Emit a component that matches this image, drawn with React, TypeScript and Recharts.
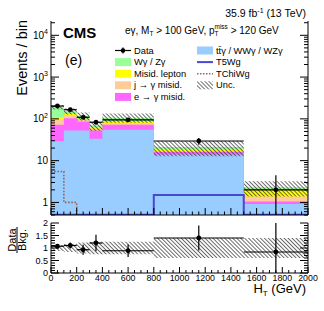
import React from 'react';
import { ComposedChart, Area, Line, Scatter, ErrorBar, XAxis, YAxis } from 'recharts';

// ---------- data ----------
const binEdges = [0, 100, 200, 300, 400, 800, 1500, 2000];
const binCenters = [50, 150, 250, 350, 600, 1150, 1750];
const binHalfWidths = [50, 50, 50, 50, 200, 350, 250];

const ttgWWgWZg = [29, 53, 53, 33.5, 55, 14, 0.92];
const eToGammaMisid = [43, 50, 33, 19.5, 17, 2, 0.13];
const jToGammaMisid = [24, 21, 10, 5, 8, 1, 0.34];
const misidLepton = [11, 9, 5, 5, 7, 1.7, 0.61];
const wgZg = [83, 19, 16, 6, 20, 2.5, 0.3];
const bkgRelUnc = [0.12, 0.16, 0.22, 0.25, 0.25, 0.4, 0.4];

const dataCounts = [203, 166, 109, 83, 95, 29.5, 2.0];
const dataErrLow = [14, 13, 11, 9, 10, 5.4, 1.5];
const dataErrHigh = [14, 13, 11, 9, 10, 5.4, 2.5];

const t5wgSignal = [0.51, 0.51, 0.51, 0.51, 0.51, 1.5, 0.51];
const tchiwgSignal = [5.5, 1.0, 0.3, 0.3, 0.3, 0.3, 0.3];

const ratioValues = [1.07, 1.1, 0.93, 1.2, 0.89, 1.4, 0.84];
const ratioErrLow = [0.08, 0.12, 0.2, 0.33, 0.25, 0.5, 0.84];
const ratioErrHigh = [0.08, 0.12, 0.2, 0.33, 0.25, 0.5, 1.16];

const mainYTicks = [
  0.5, 0.6, 0.7, 0.8, 0.9, 1, 2, 3, 4, 5, 6, 7, 8, 9, 10, 20, 30, 40, 50, 60, 70, 80, 90,
  100, 200, 300, 400, 500, 600, 700, 800, 900, 1000, 2000, 3000, 4000, 5000, 6000, 7000, 8000, 9000, 10000, 20000,
];
const xTicks = [0, 50, 100, 150, 200, 250, 300, 350, 400, 450, 500, 550, 600, 650, 700, 750, 800, 850, 900, 950, 1000,
  1050, 1100, 1150, 1200, 1250, 1300, 1350, 1400, 1450, 1500, 1550, 1600, 1650, 1700, 1750, 1800, 1850, 1900, 1950, 2000];
const ratioYTicks = [0, 0.1, 0.2, 0.3, 0.4, 0.5, 0.6, 0.7, 0.8, 0.9, 1, 1.1, 1.2, 1.3, 1.4, 1.5, 1.6, 1.7, 1.8, 1.9, 2];

// ---------- derived tables ----------
const stepRows = binEdges.map((x, i) => {
  const b = Math.min(i, binCenters.length - 1);
  const s1 = ttgWWgWZg[b];
  const s2 = s1 + eToGammaMisid[b];
  const s3 = s2 + jToGammaMisid[b];
  const s4 = s3 + misidLepton[b];
  const s5 = s4 + wgZg[b];
  return {
    x, s1, s2, s3, s4, s5,
    unc: [s5 * (1 - bkgRelUnc[b]), s5 * (1 + bkgRelUnc[b])],
    runc: [1 - bkgRelUnc[b], 1 + bkgRelUnc[b]],
    t5: t5wgSignal[b],
    tchi: tchiwgSignal[b],
  };
});

const dataPoints = binCenters.map((x, i) => ({
  x, y: dataCounts[i], xerr: binHalfWidths[i], yerr: [dataErrLow[i], dataErrHigh[i]],
}));
const ratioPoints = binCenters.map((x, i) => ({
  x, y: ratioValues[i], xerr: binHalfWidths[i], yerr: [ratioErrLow[i], ratioErrHigh[i]],
}));

// ---------- style ----------
const FONT = '"Liberation Sans", Arial, Helvetica, sans-serif';
const C = {
  ttg: '#99ccff', eg: '#ff66ff', jg: '#ffcc99', lep: '#ffff00', wg: '#99ff99',
  t5: '#4848d0', tchi: '#996655', hatch: '#3a3a3a',
};

const isDecade = (v: number) => Math.abs(Math.log10(v) - Math.round(Math.log10(v))) < 1e-9;
const isMult = (v: number, m: number) => Math.abs(v / m - Math.round(v / m)) < 1e-6;

const makeTick = (side: 'left' | 'right' | 'top' | 'bottom', isMajor: (v: number) => boolean, majorLen: number, minorLen: number, label?: (v: number, x: number, y: number) => React.ReactNode) =>
  (props: any) => {
    const { x, y, payload } = props;
    const v = payload.value;
    const len = isMajor(v) ? majorLen : minorLen;
    let line;
    if (side === 'left') line = <line x1={x} x2={x + len} y1={y} y2={y} stroke="#000" strokeWidth={1} />;
    else if (side === 'right') line = <line x1={x} x2={x - len} y1={y} y2={y} stroke="#000" strokeWidth={1} />;
    else if (side === 'top') line = <line x1={x} x2={x} y1={y} y2={y + len} stroke="#000" strokeWidth={1} />;
    else line = <line x1={x} x2={x} y1={y} y2={y - len} stroke="#000" strokeWidth={1} />;
    return (
      <g>
        {line}
        {label && isMajor(v) ? label(v, x, y) : null}
      </g>
    );
  };

const logLabel = (v: number, x: number, y: number) => {
  const e = Math.round(Math.log10(v));
  if (e <= 1) {
    return <text x={x - 3} y={y + 3.5} textAnchor="end" fontSize={10} fontFamily={FONT} fill="#000">{String(v)}</text>;
  }
  return (
    <text x={x - 3} y={y + 3.5} textAnchor="end" fontSize={10} fontFamily={FONT} fill="#000">
      10<tspan fontSize={7} dy={-4.5}>{String(e)}</tspan>
    </text>
  );
};

const ratioYLabel = (v: number, x: number, y: number) => (
  <text x={x - 3} y={y + 3.3} textAnchor="end" fontSize={9} fontFamily={FONT} fill="#000">{String(v)}</text>
);
const ratioXLabel = (v: number, x: number, y: number) => (
  <text x={x} y={y + 7.5} textAnchor="middle" fontSize={8.8} fontFamily={FONT} fill="#000">{String(v)}</text>
);

const legendLeft = [
  { label: 'Data', kind: 'data', color: '#000' },
  { label: 'Wγ / Zγ', kind: 'box', color: C.wg },
  { label: 'Misid. lepton', kind: 'box', color: C.lep },
  { label: 'j → γ misid.', kind: 'box', color: C.jg },
  { label: 'e → γ misid.', kind: 'box', color: C.eg },
];
const legendRight = [
  { label: 'tt̄γ / WWγ / WZγ', kind: 'box', color: C.ttg },
  { label: 'T5Wg', kind: 'line', color: C.t5 },
  { label: 'TChiWg', kind: 'dot', color: C.tchi },
  { label: 'Unc.', kind: 'hatch', color: C.hatch },
];

const HatchPattern = ({ id }: { id: string }) => (
  <pattern id={id} width={2.8} height={2.8} patternUnits="userSpaceOnUse" patternTransform="rotate(-45)">
    <line x1={0.5} y1={0} x2={0.5} y2={2.8} stroke={C.hatch} strokeWidth={0.75} />
  </pattern>
);

const LegendItem = ({ item, x, y }: { item: any; x: number; y: number }) => {
  // x: left of symbol, y: text baseline
  let sym;
  const w = 16;
  if (item.kind === 'box') sym = <rect x={x} y={y - 7} width={w} height={8} fill={item.color} />;
  else if (item.kind === 'hatch') sym = <rect x={x} y={y - 7} width={w} height={8} fill="url(#hatchLeg)" />;
  else if (item.kind === 'line') sym = <line x1={x} x2={x + w} y1={y - 3} y2={y - 3} stroke={item.color} strokeWidth={2} />;
  else if (item.kind === 'dot') sym = <line x1={x} x2={x + w} y1={y - 3} y2={y - 3} stroke={item.color} strokeWidth={1.5} strokeDasharray="1.5 1.5" />;
  else sym = (
    <g>
      <line x1={x} x2={x + w} y1={y - 3} y2={y - 3} stroke="#000" strokeWidth={1.2} />
      <line x1={x + w / 2} x2={x + w / 2} y1={y - 6} y2={y} stroke="#000" strokeWidth={1.2} />
      <circle cx={x + w / 2} cy={y - 3} r={2.3} fill="#000" />
    </g>
  );
  return (
    <g>
      {sym}
      <text x={x + w + 3} y={y} fontSize={9.3} fontFamily={FONT} fill="#000">{item.label}</text>
    </g>
  );
};

const Overlay = () => (
  <svg width={324} height={311} style={{ position: 'absolute', left: 0, top: 0, pointerEvents: 'none' }}>
    <defs>
      <HatchPattern id="hatchLeg" />
    </defs>
    <text x={306} y={16.5} textAnchor="end" fontSize={10.5} fontFamily={FONT} fill="#000">
      35.9 fb<tspan fontSize={7} dy={-4}>-1</tspan><tspan dy={4}> (13 TeV)</tspan>
    </text>
    <text x={63} y={38} fontSize={15} fontWeight="bold" fontFamily={FONT} fill="#000">CMS</text>
    <text x={65} y={65} fontSize={14} fontFamily={FONT} fill="#000">(e)</text>
    <text x={125} y={34} fontSize={10} fontFamily={FONT} fill="#000">
      eγ, M<tspan fontSize={6.5} dy={2}>T</tspan><tspan dy={-2}> &gt; 100 GeV, p</tspan><tspan fontSize={6.5} dy={2}>T</tspan><tspan fontSize={6.5} dx={-4} dy={-7}>miss</tspan><tspan dy={5}> &gt; 120 GeV</tspan>
    </text>
    {legendLeft.map((it, i) => <LegendItem key={it.label} item={it} x={115} y={53.5 + 11.6 * i} />)}
    {legendRight.map((it, i) => <LegendItem key={it.label} item={it} x={197} y={53.5 + 11.6 * i} />)}
    <text transform="translate(26.5,20) rotate(-90)" textAnchor="end" fontSize={14.5} fontFamily={FONT} fill="#000">Events / bin</text>
    <g transform="translate(17,240) rotate(-90)">
      <text x={0} y={-1.5} textAnchor="middle" fontSize={11} fontFamily={FONT} fill="#000">Data</text>
      <line x1={-13} x2={13} y1={0} y2={0} stroke="#000" strokeWidth={1} />
      <text x={0} y={9} textAnchor="middle" fontSize={11} fontFamily={FONT} fill="#000">Bkg.</text>
    </g>
    <text x={306} y={293} textAnchor="end" fontSize={13} fontFamily={FONT} fill="#000">
      H<tspan fontSize={8} dy={2.5}>T</tspan><tspan dy={-2.5}> (GeV)</tspan>
    </text>
  </svg>
);

const DataDot = (props: any) => {
  const { cx, cy } = props;
  if (cx == null || cy == null) return null;
  return <circle cx={cx} cy={cy} r={2.4} fill="#000" />;
};

export default function App() {
  return (
    <div style={{ position: 'absolute', left: 0, top: 0, width: 324, height: 311, background: '#fff', fontFamily: FONT }}>
      <div style={{ position: 'absolute', left: 0, top: 0 }}>
        <ComposedChart width={324} height={216} data={stepRows} margin={{ top: 21, right: 0, bottom: 0, left: 0 }}>
          <defs>
            <HatchPattern id="hatchMain" />
          </defs>
          <Area xAxisId="b" yAxisId="l" type="stepAfter" dataKey="s5" fill={C.wg} fillOpacity={1} stroke="none" baseValue={0.5} isAnimationActive={false} />
          <Area xAxisId="b" yAxisId="l" type="stepAfter" dataKey="s4" fill={C.lep} fillOpacity={1} stroke="none" baseValue={0.5} isAnimationActive={false} />
          <Area xAxisId="b" yAxisId="l" type="stepAfter" dataKey="s3" fill={C.jg} fillOpacity={1} stroke="none" baseValue={0.5} isAnimationActive={false} />
          <Area xAxisId="b" yAxisId="l" type="stepAfter" dataKey="s2" fill={C.eg} fillOpacity={1} stroke="none" baseValue={0.5} isAnimationActive={false} />
          <Area xAxisId="b" yAxisId="l" type="stepAfter" dataKey="s1" fill={C.ttg} fillOpacity={1} stroke="none" baseValue={0.5} isAnimationActive={false} />
          <Area xAxisId="b" yAxisId="l" type="stepAfter" dataKey="unc" fill="url(#hatchMain)" fillOpacity={1} stroke="none" isAnimationActive={false} />
          <Line xAxisId="b" yAxisId="l" type="stepAfter" dataKey="t5" stroke={C.t5} strokeWidth={2} dot={false} isAnimationActive={false} />
          <Line xAxisId="b" yAxisId="l" type="stepAfter" dataKey="tchi" stroke={C.tchi} strokeWidth={1.6} strokeDasharray="1.6 1.6" dot={false} isAnimationActive={false} />
          <Scatter xAxisId="b" yAxisId="l" data={dataPoints} dataKey="y" shape={DataDot} isAnimationActive={false}>
            <ErrorBar dataKey="xerr" direction="x" width={0} stroke="#000" strokeWidth={1.2} />
            <ErrorBar dataKey="yerr" direction="y" width={0} stroke="#000" strokeWidth={1.2} />
          </Scatter>
          <XAxis xAxisId="b" dataKey="x" type="number" domain={[0, 2000]} ticks={xTicks} interval={0} height={1}
            tickSize={0} tickMargin={0} axisLine={{ stroke: '#000' }} tickLine={false}
            tick={makeTick('bottom', (v) => isMult(v, 200), 7, 3.5)} allowDataOverflow />
          <XAxis xAxisId="t" orientation="top" dataKey="x" type="number" domain={[0, 2000]} ticks={xTicks} interval={0} height={0}
            tickSize={0} tickMargin={0} axisLine={{ stroke: '#000' }} tickLine={false}
            tick={makeTick('top', (v) => isMult(v, 200), 7, 3.5)} allowDataOverflow />
          <YAxis yAxisId="l" type="number" scale="log" domain={[0.5, 22000]} ticks={mainYTicks} interval={0} width={51}
            tickSize={0} tickMargin={0} axisLine={{ stroke: '#000' }} tickLine={false}
            tick={makeTick('left', isDecade, 8, 4, logLabel)} allowDataOverflow />
          <YAxis yAxisId="r" orientation="right" type="number" scale="log" domain={[0.5, 22000]} ticks={mainYTicks} interval={0} width={16}
            tickSize={0} tickMargin={0} axisLine={{ stroke: '#000' }} tickLine={false}
            tick={makeTick('right', isDecade, 8, 4)} allowDataOverflow />
        </ComposedChart>
      </div>
      <div style={{ position: 'absolute', left: 0, top: 216 }}>
        <ComposedChart width={324} height={95} data={stepRows} margin={{ top: 7, right: 0, bottom: 0, left: 0 }}>
          <defs>
            <HatchPattern id="hatchRatio" />
          </defs>
          <Area xAxisId="b" yAxisId="l" type="stepAfter" dataKey="runc" fill="url(#hatchRatio)" fillOpacity={1} stroke="none" isAnimationActive={false} />
          <Scatter xAxisId="b" yAxisId="l" data={ratioPoints} dataKey="y" shape={DataDot} isAnimationActive={false}>
            <ErrorBar dataKey="xerr" direction="x" width={0} stroke="#000" strokeWidth={1.2} />
            <ErrorBar dataKey="yerr" direction="y" width={0} stroke="#000" strokeWidth={1.2} />
          </Scatter>
          <XAxis xAxisId="b" dataKey="x" type="number" domain={[0, 2000]} ticks={xTicks} interval={0} height={38}
            tickSize={0} tickMargin={0} axisLine={{ stroke: '#000' }} tickLine={false}
            tick={makeTick('bottom', (v) => isMult(v, 200), 6, 3, ratioXLabel)} allowDataOverflow />
          <XAxis xAxisId="t" orientation="top" dataKey="x" type="number" domain={[0, 2000]} ticks={xTicks} interval={0} height={0}
            tickSize={0} tickMargin={0} axisLine={{ stroke: '#000' }} tickLine={false}
            tick={makeTick('top', (v) => isMult(v, 200), 6, 3)} allowDataOverflow />
          <YAxis yAxisId="l" type="number" domain={[0, 2]} ticks={ratioYTicks} interval={0} width={51}
            tickSize={0} tickMargin={0} axisLine={{ stroke: '#000' }} tickLine={false}
            tick={makeTick('left', (v) => isMult(v, 0.5), 8, 4, ratioYLabel)} allowDataOverflow />
          <YAxis yAxisId="r" orientation="right" type="number" domain={[0, 2]} ticks={ratioYTicks} interval={0} width={16}
            tickSize={0} tickMargin={0} axisLine={{ stroke: '#000' }} tickLine={false}
            tick={makeTick('right', (v) => isMult(v, 0.5), 8, 4)} allowDataOverflow />
        </ComposedChart>
      </div>
      <Overlay />
    </div>
  );
}
